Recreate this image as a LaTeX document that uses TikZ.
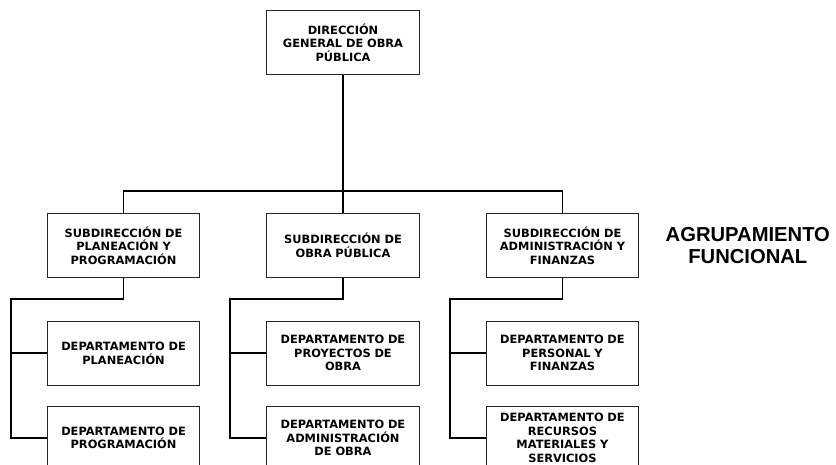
\documentclass[tikz,border=0pt]{standalone}
\usepackage{fontspec}
\setmainfont{DejaVu Sans}
\newfontfamily\titlefont{Liberation Sans}
\usepackage{tikz}
\usetikzlibrary{positioning}

\begin{document}
\begin{tikzpicture}[x=1pt,y=1pt,
  box/.style={draw=black!85,line width=0.8pt,minimum width=152pt,minimum height=64pt,
    text width=146pt,align=center,font=\fontsize{11.4pt}{13.5pt}\selectfont\bfseries},
  link/.style={draw=black,line width=1.6pt}]
  \useasboundingbox (0,0) rectangle (836,465);
  \node[box] (so) at (343,219.5) {SUBDIRECCIÓN DE\\OBRA PÚBLICA};
  \node[box,left=66pt of so] (sp) {SUBDIRECCIÓN DE\\PLANEACIÓN Y\\PROGRAMACIÓN};
  \node[box,right=66pt of so] (sa) {SUBDIRECCIÓN DE\\ADMINISTRACIÓN Y\\FINANZAS};
  \node[box,above=138pt of so] (dg) {DIRECCIÓN\\GENERAL DE OBRA\\PÚBLICA};
  \node[box,below=43pt of sp] (dpla) {DEPARTAMENTO DE\\PLANEACIÓN};
  \node[box,below=20pt of dpla] (dpro) {DEPARTAMENTO DE\\PROGRAMACIÓN};
  \node[box,below=43pt of so] (dpry) {DEPARTAMENTO DE\\PROYECTOS DE\\OBRA};
  \node[box,below=20pt of dpry] (dadm) {DEPARTAMENTO DE\\ADMINISTRACIÓN\\DE OBRA};
  \node[box,below=43pt of sa] (dper) {DEPARTAMENTO DE\\PERSONAL Y\\FINANZAS};
  \node[box,below=20pt of dper] (drec) {DEPARTAMENTO DE\\RECURSOS\\MATERIALES Y\\SERVICIOS};
  \node[right=23pt of sa,align=center,font=\titlefont\fontsize{20.2pt}{22pt}\selectfont\bfseries] (ag) {AGRUPAMIENTO\\FUNCIONAL};
  \draw[link] (dg.south) -- (so.north);
  \draw[link] (sp.north) |- ([yshift=22pt]sa.north) -- (sa.north);
  \draw[link] (sp.south) -- ++(0,-21pt) -| ([xshift=-36pt]dpro.west) -- (dpro.west);
  \draw[link] ([xshift=-36pt]dpla.west) -- (dpla.west);
  \draw[link] (so.south) -- ++(0,-21pt) -| ([xshift=-36pt]dadm.west) -- (dadm.west);
  \draw[link] ([xshift=-36pt]dpry.west) -- (dpry.west);
  \draw[link] (sa.south) -- ++(0,-21pt) -| ([xshift=-36pt]drec.west) -- (drec.west);
  \draw[link] ([xshift=-36pt]dper.west) -- (dper.west);
\end{tikzpicture}
\end{document}
